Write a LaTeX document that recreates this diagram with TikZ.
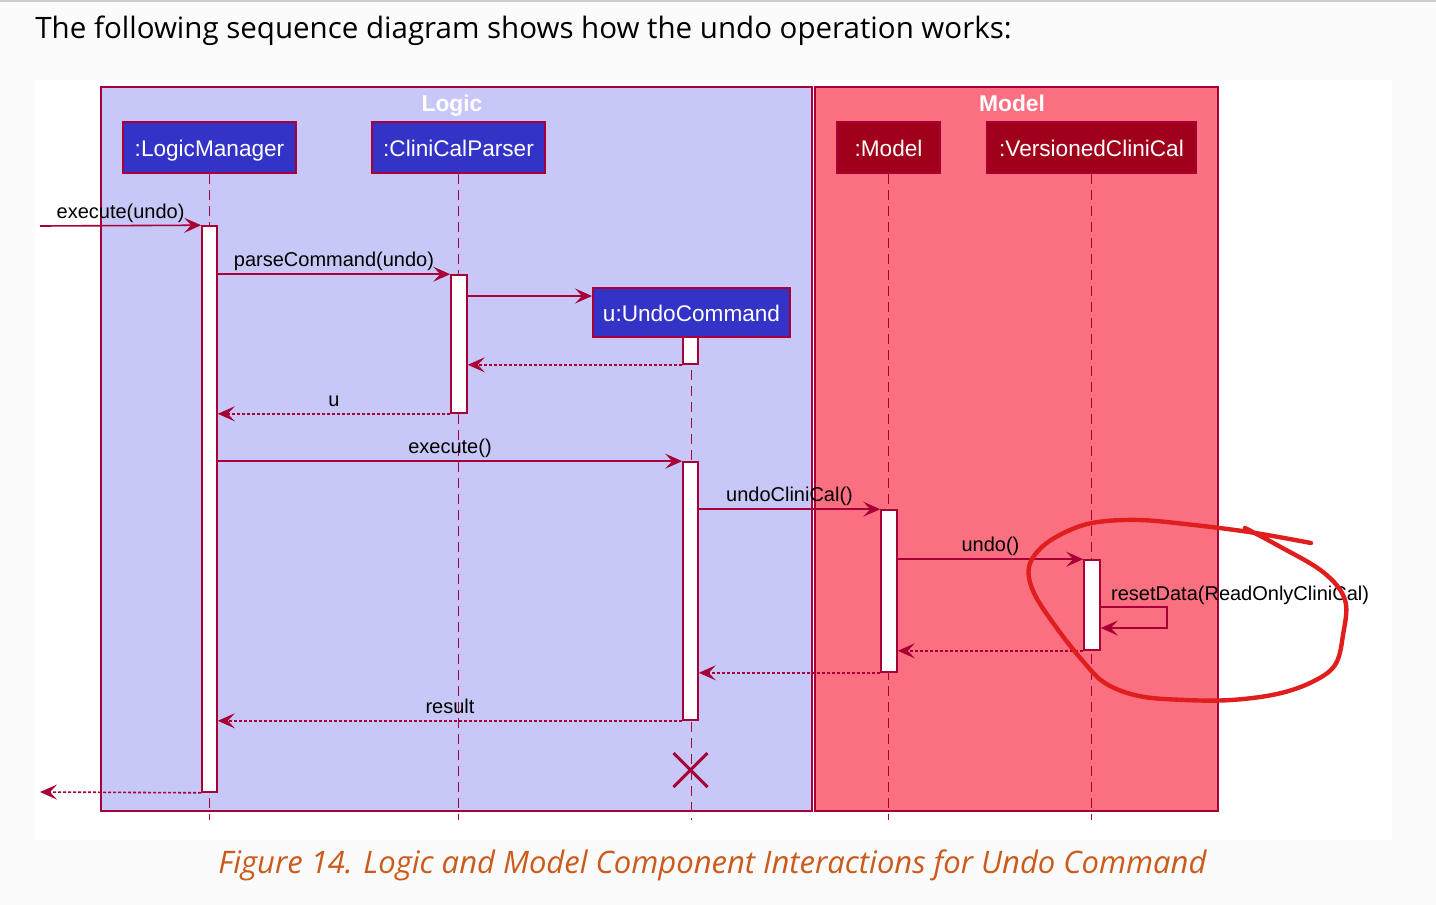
\documentclass[tikz,border=0pt]{standalone}
\usepackage{fontspec}
\setmainfont{Liberation Sans}
\newfontfamily\docfont{Open Sans}
\usetikzlibrary{arrows.meta, positioning, fit}
\usepackage{xcolor}
\definecolor{umlred}{HTML}{A80036}
\definecolor{logicfill}{HTML}{C8C8F8}
\definecolor{modelfill}{HTML}{FA7080}
\definecolor{logicblue}{HTML}{3333C8}
\definecolor{modeldark}{HTML}{A0001A}
\definecolor{captionorange}{HTML}{CC5A1A}
\definecolor{penred}{HTML}{E01E1E}
\definecolor{pagegray}{HTML}{FBFBFB}

\begin{document}
\begin{tikzpicture}[
    x=0.5pt, y=-0.5pt,
    package/.style={
        rectangle,
        draw=umlred,
        line width=1pt,
        inner sep=0pt
    },
    pkgtitle/.style={
        font=\fontsize{11.4}{13}\selectfont\bfseries,
        text=white,
        text height=11.2pt,
        text depth=2.4pt
    },
    participant/.style={
        rectangle,
        draw=umlred,
        line width=1pt,
        text=white,
        font=\fontsize{11.3}{13}\selectfont,
        text height=11.2pt,
        text depth=2.4pt,
        minimum height=25.5pt
    },
    lifeline/.style={
        draw=umlred,
        line width=0.8pt,
        dash pattern=on 5pt off 3pt
    },
    bar/.style={
        rectangle,
        draw=umlred,
        fill=white,
        line width=0.8pt,
        inner sep=0pt
    },
    msg/.style={
        draw=umlred,
        line width=0.8pt,
        -{Stealth[length=8.5pt, width=7.5pt, inset=3.5pt]}
    },
    reply/.style={
        msg,
        dash pattern=on 1.5pt off 1pt
    },
    msglabel/.style={
        font=\fontsize{10}{12}\selectfont,
        text height=7.5pt,
        text depth=2.3pt,
        inner sep=1pt,
        above
    },
    pen/.style={
        draw=penred,
        line width=2.2pt,
        line cap=round,
        line join=round
    }
]

\useasboundingbox (0,0) rectangle (1436,905);

% Page
\fill[pagegray] (0,0) rectangle (1436,905);
\fill[white] (35,80) rectangle (1392,840);
\draw[black!20, line width=1pt] (0,1) -- (1436,1);

% Title
\node[anchor=base west, inner sep=0pt, font=\docfont\fontsize{14.75}{18}\selectfont] (title) at (35,38)
    {The following sequence diagram shows how the undo operation works:};

% Packages
\node[package, fill=logicfill, fit={(101,87)(812,811)}] (logic) {};
\node[package, fill=modelfill, fit={(815,87)(1218,811)}] (model) {};
\node[pkgtitle] (logicT) at (452,103) {Logic};
\node[pkgtitle] (modelT) at (1012,103) {Model};

% Participants
\node[participant, fill=logicblue, minimum width=86.5pt] (lm) at (209.5,147.5) {:LogicManager};
\node[participant, fill=logicblue, minimum width=86.5pt] (cp) at (458.5,147.5) {:CliniCalParser};
\node[participant, fill=modeldark, minimum width=51.5pt] (m) at (888.5,147.5) {:Model};
\node[participant, fill=modeldark, minimum width=104.5pt] (vc) at (1091.5,147.5) {:VersionedCliniCal};
\node[participant, fill=logicblue, minimum width=98.5pt, minimum height=24.5pt] (uc) at (691.5,312.5) {u:UndoCommand};

% Lifelines
\coordinate (bottom) at (0,820);
\foreach \p in {lm,cp,m,vc,uc}
    \draw[lifeline] (\p.south) -- (\p.south |- bottom);

% Activations
\node[bar, fit={(202,226)(217,792)}] (lmA) {};
\node[bar, fit={(451,275)(467,413)}] (cpA) {};
\node[bar, fit={(683,337)(698,364)}] (ucA1) {};
\node[bar, fit={(683,462)(698,720)}] (ucA2) {};
\node[bar, fit={(881,510)(897,672)}] (mA) {};
\node[bar, fit={(1084,560)(1100,650)}] (vA) {};

% Messages
\coordinate (inL) at (40,226);
\draw[msg] (inL) -- node[msglabel] {execute(undo)} (lmA.north west);
\draw[msg] (lmA.east |- cpA.north west) -- node[msglabel] {parseCommand(undo)} (cpA.north west);
\coordinate (ucIn) at ([yshift=-4.5pt]uc.north west);
\draw[msg] (cpA.east |- ucIn) -- (ucIn);
\draw[reply] (ucA1.south west) -- (cpA.east |- ucA1.south west);
\draw[reply] (cpA.south west) -- node[msglabel] {u} (lmA.east |- cpA.south west);
\draw[msg] (lmA.east |- ucA2.north west) -- node[msglabel] {execute()} (ucA2.north west);
\draw[msg] (ucA2.east |- mA.north west) -- node[msglabel] {undoCliniCal()} (mA.north west);
\draw[msg] (mA.east |- vA.north west) -- node[msglabel] {undo()} (vA.north west);

% Self call
\coordinate (selfTop) at (1167,607);
\coordinate (selfBot) at (1167,628);
\draw[msg] (vA.east |- selfTop) -- (selfTop) -- (selfBot) -- (vA.east |- selfBot);
\node[msglabel, anchor=south west] (selfL) at ([xshift=4pt]vA.east |- selfTop) {resetData(ReadOnlyCliniCal)};

% Returns
\draw[reply] (vA.south west) -- (mA.east |- vA.south west);
\draw[reply] (mA.south west) -- (ucA2.east |- mA.south west);
\draw[reply] (ucA2.south west) -- node[msglabel] {result} (lmA.east |- ucA2.south west);
\coordinate (outL) at (40,792);
\draw[reply] (lmA.south west) -- (outL);

% Destroy
\coordinate (ucEnd) at (690.5,770);
\draw[umlred, line width=1.5pt] ([shift={(-8.5pt,8.5pt)}]ucEnd) -- ([shift={(8.5pt,-8.5pt)}]ucEnd)
    ([shift={(-8.5pt,-8.5pt)}]ucEnd) -- ([shift={(8.5pt,8.5pt)}]ucEnd);

% Hand-drawn mark
\draw[pen] plot[smooth, tension=0.6] coordinates {(1245,528) (1277,545) (1323,572) (1345,600)
    (1343,635) (1335,665) (1312,682) (1277,694) (1231,700) (1185,700) (1139,696) (1105,683)
    (1082,660) (1056,627) (1034,593) (1029,567) (1043,546) (1070,530) (1098,522) (1139,520)
    (1185,524) (1249,532) (1311,543)};

% Caption
\node[anchor=base, inner sep=0pt, text=captionorange, font=\docfont\itshape\fontsize{15.5}{18}\selectfont] (caption) at (712.5,873)
    {Figure 14. Logic and Model Component Interactions for Undo Command};

\end{tikzpicture}
\end{document}
